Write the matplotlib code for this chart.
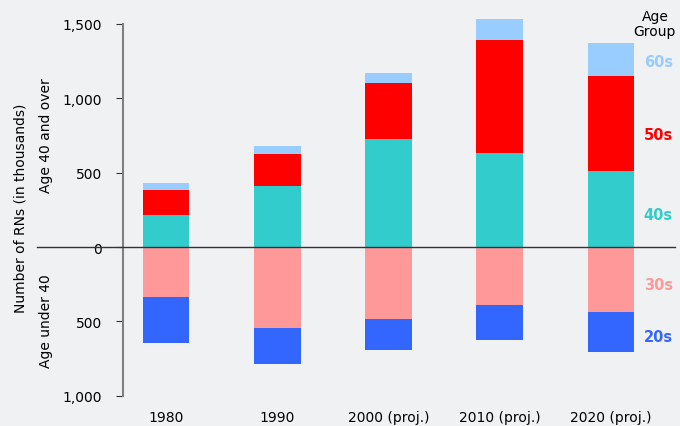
import matplotlib.pyplot as plt
import numpy as np
from matplotlib.ticker import FuncFormatter

# values in thousands of RNs
years = ["1980", "1990", "2000 (proj.)", "2010 (proj.)", "2020 (proj.)"]
age40s = [217, 412, 727, 629, 508]
age50s = [168, 213, 374, 763, 639]
age60s = [47, 51, 68, 141, 225]
age30s = [334, 542, 486, 392, 439]
age20s = [313, 248, 208, 235, 264]

bg = "#F0F1F3"
c60 = "#99CCFF"
c50 = "#FF0000"
c40 = "#33CCCC"
c30 = "#FF9999"
c20 = "#3366FF"

fig = plt.figure(figsize=(6.8, 4.27), dpi=100, facecolor=bg)
ax = fig.add_axes([0.181, 0.071, 0.812, 0.8705])
ax.set_facecolor(bg)

x = np.arange(len(years))
w = 0.42
a40 = np.array(age40s)
a50 = np.array(age50s)
a30 = np.array(age30s)
bars = []
bars += ax.bar(x, age40s, w, color=c40, zorder=2)
bars += ax.bar(x, age50s, w, bottom=a40, color=c50, zorder=2)
bars += ax.bar(x, age60s, w, bottom=a40 + a50, color=c60, zorder=2)
bars += ax.bar(x, -a30, w, color=c30, zorder=2)
bars += ax.bar(x, -np.array(age20s), w, bottom=-a30, color=c20, zorder=2)
for b in bars:
    b.set_clip_on(False)

ax.set_xlim(-0.387, 4.577)
ax.set_ylim(-1000, 1500)

# zero line runs out past the axis on the left
ax.plot([-1.16, 4.577], [0, 0], color="#333333", lw=1, clip_on=False, zorder=3)

for s in ["top", "right", "bottom"]:
    ax.spines[s].set_visible(False)
ax.spines["left"].set_color("#808080")
ax.spines["left"].set_linewidth(1.5)

ax.set_yticks([-1000, -500, 0, 500, 1000, 1500])
ax.yaxis.set_major_formatter(FuncFormatter(lambda v, p: f"{abs(int(v)):,}"))
ax.tick_params(axis="y", length=5, color="#333333", labelsize=10, pad=10)
ax.set_xticks(x)
ax.set_xticklabels(years)
ax.tick_params(axis="x", length=0, labelsize=10, pad=10)

fig.text(0.030, 0.512, "Number of RNs (in thousands)", rotation=90, ha="center", va="center", fontsize=10)
fig.text(0.068, 0.683, "Age 40 and over", rotation=90, ha="center", va="center", fontsize=10)
fig.text(0.068, 0.248, "Age under 40", rotation=90, ha="center", va="center", fontsize=10)

fig.text(0.963, 0.943, "Age\nGroup", ha="center", va="center", fontsize=10, linespacing=1.1)
side = [("60s", c60, 63), ("50s", c50, 135), ("40s", c40, 216), ("30s", c30, 286), ("20s", c20, 338)]
for lab, col, py in side:
    fig.text(0.968, 1 - py / 427, lab, ha="center", va="center", fontsize=10.5,
             fontweight="bold", color=col)

fig.savefig("out.png", dpi=100, facecolor=bg)
